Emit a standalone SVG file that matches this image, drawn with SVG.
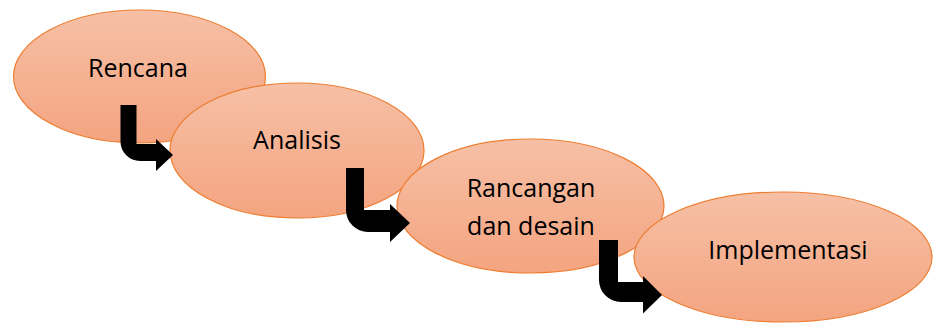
<svg xmlns="http://www.w3.org/2000/svg" width="933" height="325" viewBox="0 0 933 325">
  <defs>
    <linearGradient id="peach" x1="0" y1="0" x2="0" y2="1">
      <stop offset="0" stop-color="#F6C0A6"/>
      <stop offset="1" stop-color="#F4A480"/>
    </linearGradient>
    <style>
      .stage { fill: url(#peach); stroke: #ED7D31; stroke-width: 1.2; }
      .label { font-family: "Open Sans", "Liberation Sans", sans-serif; font-size: 25px; fill: #000; text-anchor: middle; }
      .bent { fill: #000; stroke: none; }
    </style>
  </defs>

  <g id="node-rencana">
    <ellipse class="stage" cx="139.5" cy="76.5" rx="126" ry="66.5"/>
    <text class="label" x="138" y="77">Rencana</text>
  </g>

  <g id="node-analisis">
    <ellipse class="stage" cx="297" cy="150.5" rx="127" ry="67.5"/>
    <text class="label" x="297" y="149">Analisis</text>
  </g>

  <g id="node-rancangan">
    <ellipse class="stage" cx="530.5" cy="206" rx="133.5" ry="67"/>
    <text class="label" x="531" y="197">Rancangan</text>
    <text class="label" x="531" y="235">dan desain</text>
  </g>

  <g id="node-implementasi">
    <ellipse class="stage" cx="783" cy="257" rx="149" ry="65"/>
    <text class="label" x="788" y="259">Implementasi</text>
  </g>

  <g id="connectors">
    <path class="bent" d="M120.5,105 H136.5 V144 H156 V139 L173,155 L156,171 V161 H140 A19.5,19.5 0 0 1 120.5,141.5 Z"/>
    <path class="bent" d="M346,168 H364 V210 H390 V204 L410,223 L390,242 V232 H368 A22,22 0 0 1 346,210 Z"/>
    <path class="bent" d="M599,240 H618 V282 H643 V276 L662,295 L643,313.5 V302 H621 A22,22 0 0 1 599,280 Z"/>
  </g>
</svg>
